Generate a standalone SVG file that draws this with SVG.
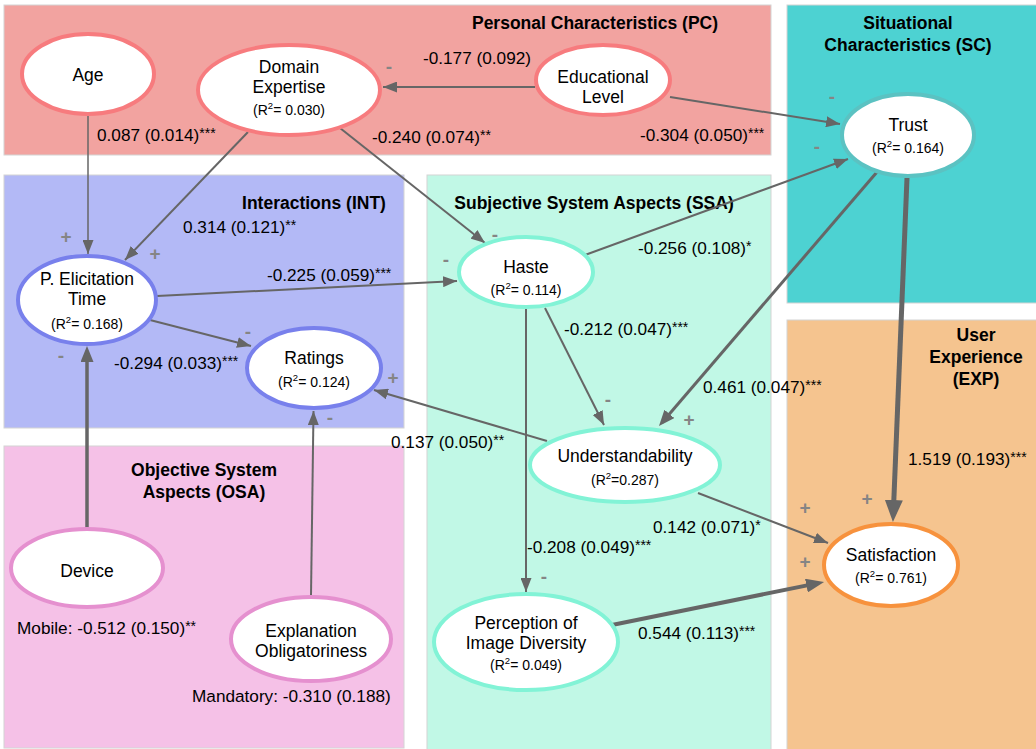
<svg xmlns="http://www.w3.org/2000/svg" width="1036" height="749" viewBox="0 0 1036 749">
<style>
  text { font-family: "Liberation Sans", Arial, Helvetica, sans-serif; fill: #000; }
  .title { font-size: 17.5px; font-weight: bold; text-anchor: middle; }
  .lbl { font-size: 17.5px; text-anchor: middle; }
  .r2 { font-size: 14px; text-anchor: middle; }
  .sup { font-size: 9.5px; }
  .el { font-size: 17.2px; }
  .ast { font-size: 14px; }
  .sign { font-size: 19px; font-weight: bold; fill: #858585; text-anchor: middle; }
  .box { stroke: #d4d4d4; stroke-width: 1; }
  .node ellipse { fill: #fff; stroke-width: 4; }
  .pc ellipse { stroke: #F77B7E; }
  .sc ellipse { stroke: #5BC2C2; }
  .int ellipse { stroke: #7880EC; }
  .ssa ellipse { stroke: #82F3D6; }
  .osa ellipse { stroke: #E590CF; }
  .exp ellipse { stroke: #F7923D; }
  .edge { stroke: #666; fill: none; stroke-linecap: butt; }
</style>
<defs>
  <marker id="a1" viewBox="0 0 14 11" refX="14" refY="5.5" markerWidth="14" markerHeight="11" markerUnits="userSpaceOnUse" orient="auto"><path d="M0,0 L14,5.5 L0,11 z" fill="#666"/></marker>
  <marker id="a2" viewBox="0 0 16 13" refX="11.2" refY="6.5" markerWidth="16" markerHeight="13" markerUnits="userSpaceOnUse" orient="auto"><path d="M0,0 L16,6.5 L0,13 z" fill="#666"/></marker>
  <marker id="a3" viewBox="0 0 22 18" refX="13.2" refY="9" markerWidth="22" markerHeight="18" markerUnits="userSpaceOnUse" orient="auto"><path d="M0,0 L22,9 L0,18 z" fill="#666"/></marker>
  <marker id="a4" viewBox="0 0 18 14" refX="10.8" refY="7" markerWidth="18" markerHeight="14" markerUnits="userSpaceOnUse" orient="auto"><path d="M0,0 L18,7 L0,14 z" fill="#666"/></marker>
</defs>
<rect width="1036" height="749" fill="#fff"/>

<g id="boxes">
  <rect id="box-pc" class="box" x="4" y="5" width="767" height="150" fill="#F2A3A0"/>
  <rect id="box-sc" class="box" x="787" y="5" width="252" height="298" fill="#4DD2D2"/>
  <rect id="box-int" class="box" x="4" y="175" width="400" height="253" fill="#B3B9F6"/>
  <rect id="box-ssa" class="box" x="427" y="175" width="344" height="580" fill="#C1F8E6"/>
  <rect id="box-exp" class="box" x="787" y="320" width="252" height="435" fill="#F5C48F"/>
  <rect id="box-osa" class="box" x="4" y="446" width="400" height="302" fill="#F5C1E7"/>
  <text class="title" x="595" y="29">Personal Characteristics (PC)</text>
  <text class="title" x="908" y="29">Situational</text>
  <text class="title" x="908" y="51">Characteristics (SC)</text>
  <text class="title" x="314" y="209">Interactions (INT)</text>
  <text class="title" x="594" y="209">Subjective System Aspects (SSA)</text>
  <text class="title" x="976" y="341">User</text>
  <text class="title" x="976" y="363">Experience</text>
  <text class="title" x="976" y="385">(EXP)</text>
  <text class="title" x="204" y="476">Objective System</text>
  <text class="title" x="204" y="498">Aspects (OSA)</text>
</g>

<g id="connectors">
  <line class="edge" x1="88" y1="115" x2="88" y2="254" stroke-width="1.5" marker-end="url(#a1)"/>
  <line class="edge" x1="248" y1="132" x2="125" y2="260" stroke-width="2" marker-end="url(#a1)"/>
  <line class="edge" x1="340" y1="128" x2="485" y2="243" stroke-width="2" marker-end="url(#a1)"/>
  <line class="edge" x1="535" y1="87" x2="383" y2="87" stroke-width="2" marker-end="url(#a1)"/>
  <line class="edge" x1="670" y1="97" x2="840" y2="124" stroke-width="2" marker-end="url(#a1)"/>
  <line class="edge" x1="585" y1="255" x2="848" y2="159" stroke-width="2" marker-end="url(#a1)"/>
  <line class="edge" x1="877" y1="172" x2="662.1" y2="422.4" stroke-width="3" marker-end="url(#a2)"/>
  <line class="edge" x1="907" y1="178" x2="893.3" y2="513.2" stroke-width="5" marker-end="url(#a3)"/>
  <line class="edge" x1="157" y1="296" x2="457" y2="281" stroke-width="2" marker-end="url(#a1)"/>
  <line class="edge" x1="150" y1="320" x2="251" y2="346" stroke-width="2" marker-end="url(#a1)"/>
  <line class="edge" x1="87" y1="528" x2="87" y2="350.8" stroke-width="3.5" marker-end="url(#a2)"/>
  <line class="edge" x1="311" y1="596" x2="313.5" y2="411" stroke-width="2" marker-end="url(#a1)"/>
  <line class="edge" x1="547" y1="441" x2="374" y2="390" stroke-width="2" marker-end="url(#a1)"/>
  <line class="edge" x1="545" y1="308" x2="604" y2="425" stroke-width="2" marker-end="url(#a1)"/>
  <line class="edge" x1="526" y1="309" x2="526" y2="592" stroke-width="2" marker-end="url(#a1)"/>
  <line class="edge" x1="698" y1="493" x2="828" y2="543" stroke-width="2" marker-end="url(#a1)"/>
  <line class="edge" x1="612" y1="625" x2="817" y2="583.4" stroke-width="4" marker-end="url(#a4)"/>
</g>

<g id="node-age" class="node pc">
  <ellipse cx="88" cy="74" rx="66" ry="40"/>
  <text class="lbl" x="88" y="81">Age</text>
</g>
<g id="node-domain" class="node pc">
  <ellipse cx="289" cy="90" rx="91" ry="45"/>
  <text class="lbl" x="289" y="73">Domain</text>
  <text class="lbl" x="289" y="93">Expertise</text>
  <text class="r2" x="289" y="115">(R<tspan class="sup" dy="-6">2</tspan><tspan dy="6">= 0.030)</tspan></text>
</g>
<g id="node-education" class="node pc">
  <ellipse cx="603" cy="80" rx="67" ry="35"/>
  <text class="lbl" x="603" y="83">Educational</text>
  <text class="lbl" x="603" y="103">Level</text>
</g>
<g id="node-trust" class="node sc">
  <ellipse cx="908" cy="135" rx="66" ry="41"/>
  <text class="lbl" x="908" y="131">Trust</text>
  <text class="r2" x="908" y="153">(R<tspan class="sup" dy="-6">2</tspan><tspan dy="6">= 0.164)</tspan></text>
</g>
<g id="node-elicitation" class="node int">
  <ellipse cx="87" cy="300" rx="69" ry="44"/>
  <text class="lbl" x="87" y="285">P. Elicitation</text>
  <text class="lbl" x="87" y="305">Time</text>
  <text class="r2" x="87" y="329">(R<tspan class="sup" dy="-6">2</tspan><tspan dy="6">= 0.168)</tspan></text>
</g>
<g id="node-ratings" class="node int">
  <ellipse cx="314" cy="368" rx="67" ry="40"/>
  <text class="lbl" x="314" y="364">Ratings</text>
  <text class="r2" x="314" y="387">(R<tspan class="sup" dy="-6">2</tspan><tspan dy="6">= 0.124)</tspan></text>
</g>
<g id="node-haste" class="node ssa">
  <ellipse cx="526" cy="272" rx="67" ry="35"/>
  <text class="lbl" x="526" y="273">Haste</text>
  <text class="r2" x="526" y="295">(R<tspan class="sup" dy="-6">2</tspan><tspan dy="6">= 0.114)</tspan></text>
</g>
<g id="node-understandability" class="node ssa">
  <ellipse cx="625" cy="465" rx="95" ry="37"/>
  <text class="lbl" x="625" y="462">Understandability</text>
  <text class="r2" x="625" y="485">(R<tspan class="sup" dy="-6">2</tspan><tspan dy="6">=0.287)</tspan></text>
</g>
<g id="node-diversity" class="node ssa">
  <ellipse cx="526" cy="642" rx="92" ry="48"/>
  <text class="lbl" x="526" y="629">Perception of</text>
  <text class="lbl" x="526" y="649">Image Diversity</text>
  <text class="r2" x="526" y="670">(R<tspan class="sup" dy="-6">2</tspan><tspan dy="6">= 0.049)</tspan></text>
</g>
<g id="node-device" class="node osa">
  <ellipse cx="87" cy="568" rx="76" ry="39"/>
  <text class="lbl" x="87" y="577">Device</text>
</g>
<g id="node-obligatoriness" class="node osa">
  <ellipse cx="311" cy="639" rx="80" ry="42"/>
  <text class="lbl" x="311" y="637">Explanation</text>
  <text class="lbl" x="311" y="657">Obligatoriness</text>
</g>
<g id="node-satisfaction" class="node exp">
  <ellipse cx="891" cy="565" rx="67" ry="41"/>
  <text class="lbl" x="891" y="561">Satisfaction</text>
  <text class="r2" x="891" y="583">(R<tspan class="sup" dy="-6">2</tspan><tspan dy="6">= 0.761)</tspan></text>
</g>

<g id="edge-labels">
  <text class="el" x="97" y="141">0.087 (0.014)<tspan class="ast" dy="-3">***</tspan></text>
  <text class="el" x="423" y="64">-0.177 (0.092)</text>
  <text class="el" x="372" y="143">-0.240 (0.074)<tspan class="ast" dy="-3">**</tspan></text>
  <text class="el" x="640" y="141">-0.304 (0.050)<tspan class="ast" dy="-3">***</tspan></text>
  <text class="el" x="183" y="233">0.314 (0.121)<tspan class="ast" dy="-3">**</tspan></text>
  <text class="el" x="267" y="281">-0.225 (0.059)<tspan class="ast" dy="-3">***</tspan></text>
  <text class="el" x="114" y="369">-0.294 (0.033)<tspan class="ast" dy="-3">***</tspan></text>
  <text class="el" x="638" y="254">-0.256 (0.108)<tspan class="ast" dy="-3">*</tspan></text>
  <text class="el" x="564" y="335">-0.212 (0.047)<tspan class="ast" dy="-3">***</tspan></text>
  <text class="el" x="703" y="393">0.461 (0.047)<tspan class="ast" dy="-3">***</tspan></text>
  <text class="el" x="391" y="448">0.137 (0.050)<tspan class="ast" dy="-3">**</tspan></text>
  <text class="el" x="908" y="465">1.519 (0.193)<tspan class="ast" dy="-3">***</tspan></text>
  <text class="el" x="653" y="533">0.142 (0.071)<tspan class="ast" dy="-3">*</tspan></text>
  <text class="el" x="527" y="553">-0.208 (0.049)<tspan class="ast" dy="-3">***</tspan></text>
  <text class="el" x="638" y="639">0.544 (0.113)<tspan class="ast" dy="-3">***</tspan></text>
  <text class="el" x="17" y="634">Mobile: -0.512 (0.150)<tspan class="ast" dy="-3">**</tspan></text>
  <text class="el" x="192" y="702">Mandatory: -0.310 (0.188)</text>
</g>

<g id="signs">
  <text class="sign" x="389" y="73">-</text>
  <text class="sign" x="832" y="103">-</text>
  <text class="sign" x="817" y="153">-</text>
  <text class="sign" x="66" y="243">+</text>
  <text class="sign" x="155" y="260">+</text>
  <text class="sign" x="61" y="362">-</text>
  <text class="sign" x="248" y="338">-</text>
  <text class="sign" x="393" y="384">+</text>
  <text class="sign" x="330" y="424">-</text>
  <text class="sign" x="495" y="241">-</text>
  <text class="sign" x="446" y="266">-</text>
  <text class="sign" x="608" y="406">-</text>
  <text class="sign" x="689" y="426">+</text>
  <text class="sign" x="544" y="583">-</text>
  <text class="sign" x="805" y="514">+</text>
  <text class="sign" x="867" y="505">+</text>
  <text class="sign" x="805" y="568">+</text>
</g>
</svg>
